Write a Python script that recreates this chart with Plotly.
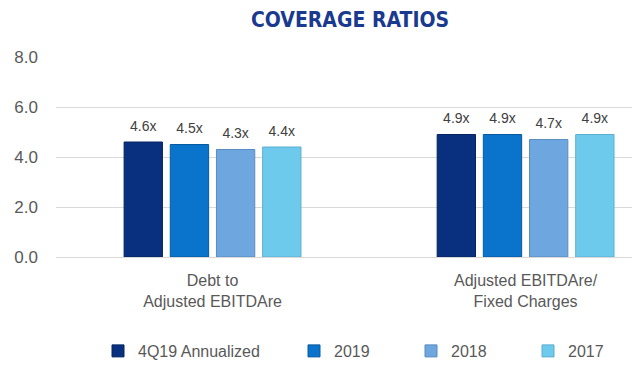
import plotly.graph_objects as go

categories = ["Debt to<br>Adjusted EBITDAre", "Adjusted EBITDAre/<br>Fixed Charges"]
series_names = ["4Q19 Annualized", "2019", "2018", "2017"]
values_4q19 = [4.6, 4.9]
values_2019 = [4.5, 4.9]
values_2018 = [4.3, 4.7]
values_2017 = [4.4, 4.9]
y_ticks = [0, 2, 4, 6, 8]

colors = ["#08307f", "#0a74cc", "#6ea6e0", "#6ecaec"]
line_colors = ["#062460", "#075a9e", "#5a8cc0", "#5aaed0"]
legend_ids = ["legend", "legend2", "legend3", "legend4"]
all_values = [values_4q19, values_2019, values_2018, values_2017]

fig = go.Figure()
for name, vals, c, lc, lid in zip(series_names, all_values, colors, line_colors, legend_ids):
    fig.add_trace(go.Bar(
        x=categories, y=vals, name=name,
        marker=dict(color=c, line=dict(color=lc, width=1)),
        texttemplate="<span style='font-size:14px'>%{y:.1f}x</span><br> ", textposition="outside",
        textfont=dict(family="Liberation Sans, Arial, sans-serif", size=5.5, color="#404040"),
        cliponaxis=False,
        legend=lid,
    ))

legend_x = [90, 286, 403, 520]
legend_common = dict(orientation="h", xref="container", yref="container",
                     xanchor="left", yanchor="middle", y=1 - 343 / 379,
                     font=dict(family="Liberation Sans, Arial, sans-serif", size=16, color="#595959"),
                     bgcolor="rgba(0,0,0,0)")
layout_legends = {}
for lid, lx in zip(legend_ids, legend_x):
    layout_legends[lid] = dict(x=lx / 640, **legend_common)

fig.update_layout(
    width=640, height=379,
    paper_bgcolor="white", plot_bgcolor="white",
    margin=dict(l=48, r=0, t=49, b=130, autoexpand=False),
    barmode="group", bargap=0.41, bargroupgap=0.17,
    uniformtext=dict(mode=False),
    title=dict(text="<b>COVERAGE RATIOS</b>", x=342 / 640, xanchor="center", xref="container",
               y=1 - 12 / 379, yanchor="middle", yref="container",
               font=dict(family="DejaVu Sans Condensed, Liberation Sans, sans-serif", size=21, color="#1a3a8f")),
    showlegend=True,
    **layout_legends,
)
fig.update_xaxes(range=[-0.5, 1.391], showline=False, ticks="", automargin=False,
                 ticklabelstandoff=12,
                 tickfont=dict(family="Liberation Sans, Arial, sans-serif", size=16, color="#595959"))
fig.update_yaxes(range=[0, 8], tickvals=y_ticks, tickformat=".1f", automargin=False,
                 showgrid=True, gridcolor="#d9d9d9", gridwidth=1,
                 zeroline=True, zerolinecolor="#d9d9d9", zerolinewidth=1,
                 ticklabelstandoff=17,
                 tickfont=dict(family="Liberation Sans, Arial, sans-serif", size=17, color="#595959"))

fig.write_html("out.html")
